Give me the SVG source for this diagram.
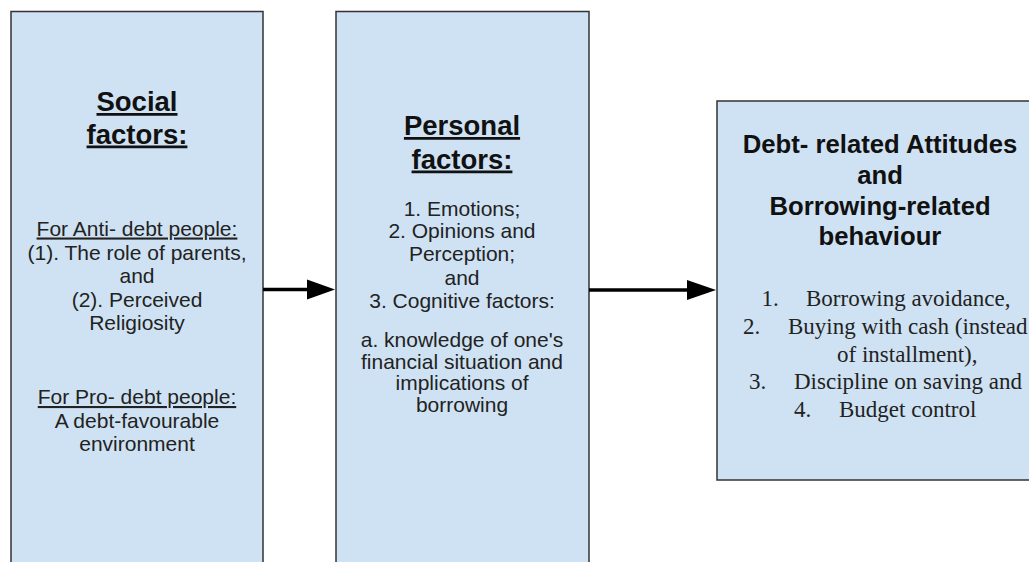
<svg xmlns="http://www.w3.org/2000/svg" width="1029" height="562" viewBox="0 0 1029 562">
<style>
.box{fill:#cfe2f3;stroke:#333;stroke-width:1.5}
.h{font-family:"Liberation Sans",Arial,sans-serif;font-weight:bold;font-size:27.5px;fill:#111;text-anchor:middle}
.u{text-decoration:underline}
.b{font-family:"Liberation Sans",Arial,sans-serif;font-size:21px;fill:#222;text-anchor:middle}
.h3{font-family:"Liberation Sans",Arial,sans-serif;font-weight:bold;font-size:25.7px;fill:#111;text-anchor:middle}
.s{font-family:"Liberation Serif","Times New Roman",serif;font-size:23px;fill:#222}
.ln{stroke:#000;stroke-width:3.5;fill:none}
</style>
<rect width="1029" height="562" fill="#fff"/>
<g id="social">
<rect class="box" x="11" y="11.5" width="252" height="580"/>
<text class="h u" x="137" y="111">Social</text>
<text class="h u" x="137" y="143.5">factors:</text>
<text class="b"><tspan class="u" x="137" y="235.5">For Anti- debt people:</tspan><tspan x="137" y="259.5">(1). The role of parents,</tspan><tspan x="137" y="283">and</tspan><tspan x="137" y="306.5">(2). Perceived</tspan><tspan x="137" y="330">Religiosity</tspan><tspan class="u" x="137" y="404">For Pro- debt people:</tspan><tspan x="137" y="427.5">A debt-favourable</tspan><tspan x="137" y="451">environment</tspan></text>
</g>
<g id="personal">
<rect class="box" x="336" y="11.5" width="253" height="580"/>
<text class="h u" x="462" y="135">Personal</text>
<text class="h u" x="462" y="168.5">factors:</text>
<text class="b"><tspan x="462" y="215.5">1. Emotions;</tspan><tspan x="462" y="238">2. Opinions and</tspan><tspan x="462" y="261">Perception;</tspan><tspan x="462" y="284.5">and</tspan><tspan x="462" y="308">3. Cognitive factors:</tspan><tspan x="462" y="347">a. knowledge of one's</tspan><tspan x="462" y="368.5">financial situation and</tspan><tspan x="462" y="390">implications of</tspan><tspan x="462" y="412">borrowing</tspan></text>
</g>
<g id="outcome">
<rect class="box" x="717" y="101" width="340" height="379"/>
<text class="h3"><tspan x="880" y="153">Debt- related Attitudes</tspan><tspan x="880" y="183.5">and</tspan><tspan x="880" y="214.5">Borrowing-related</tspan><tspan x="880" y="245">behaviour</tspan></text>
<text class="s"><tspan x="761.5" y="306">1.</tspan><tspan x="806" y="306">Borrowing avoidance,</tspan><tspan x="743" y="333.5">2.</tspan><tspan x="788" y="333.5">Buying with cash (instead</tspan><tspan x="837" y="361.5">of installment),</tspan><tspan x="749" y="389">3.</tspan><tspan x="794" y="389">Discipline on saving and</tspan><tspan x="794" y="416.5">4.</tspan><tspan x="839" y="416.5">Budget control</tspan></text>
</g>
<g id="connectors">
<line class="ln" x1="263" y1="289.5" x2="309" y2="289.5"/>
<polygon points="307,279.5 335,289.5 307,299.5" fill="#000"/>
<line class="ln" x1="589" y1="290" x2="689" y2="290"/>
<polygon points="687,280 716,290 687,300" fill="#000"/>
</g>
</svg>
